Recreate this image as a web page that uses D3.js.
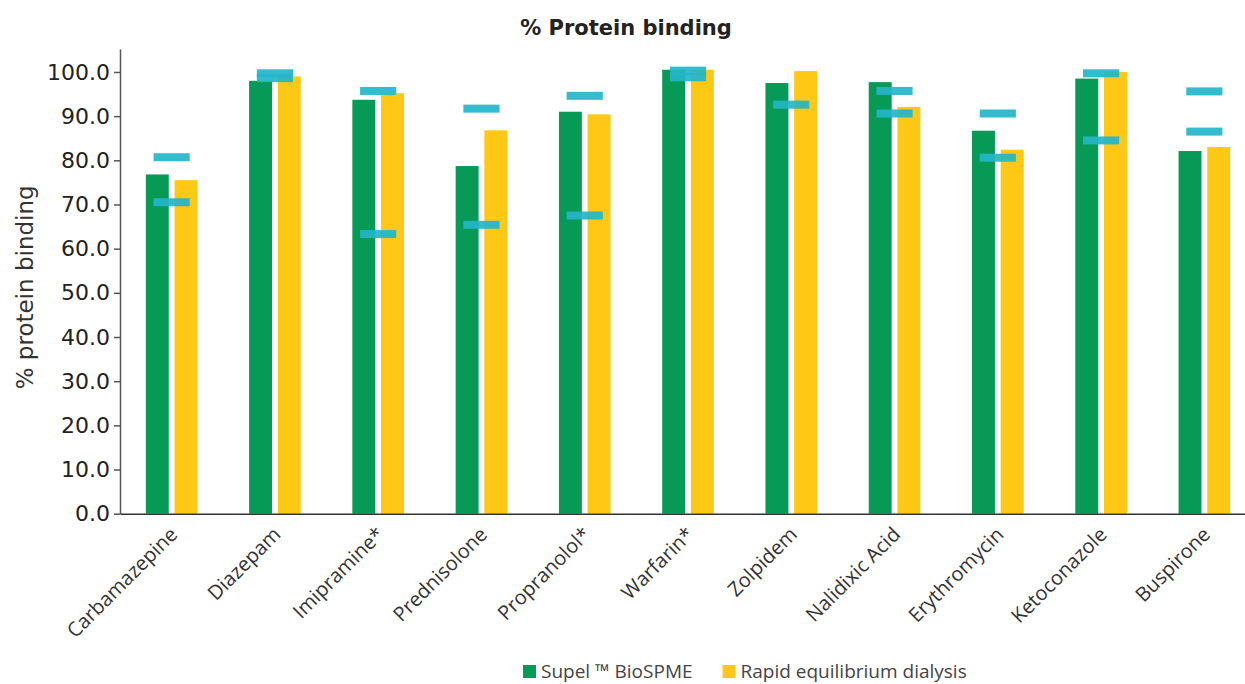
<!DOCTYPE html>
<html>
<head>
<meta charset="utf-8">
<script src="https://cdn.jsdelivr.net/npm/d3@7"></script>
<style>
  html, body { margin: 0; padding: 0; background: #fff; }
  svg { display: block; }
</style>
</head>
<body>
<svg id="chart" width="1245" height="684"></svg>
<script>
// drug names on the x axis
const drugs = ['Carbamazepine', 'Diazepam', 'Imipramine*', 'Prednisolone', 'Propranolol*',
  'Warfarin*', 'Zolpidem', 'Nalidixic Acid', 'Erythromycin', 'Ketoconazole', 'Buspirone'];

const seriesNames = ['Supel \u2122 BioSPME', 'Rapid equilibrium dialysis'];
const bioSpme  = [76.8, 98.0, 93.7, 78.7, 91.0, 100.5, 97.5, 97.7, 86.7, 98.5, 82.1];
const redValues = [75.5, 99.0, 95.2, 86.8, 90.4, 100.5, 100.2, 92.1, 82.4, 100.0, 83.0];

// literature range markers (cyan dashes), null = none
const rangeLow  = [70.5, 98.6, 63.3, 65.4, 67.5, 98.8, 92.6, 90.6, 80.6, 84.5, 86.5];
const rangeHigh = [80.7, 99.7, 95.7, 91.7, 94.6, 100.3, null, 95.7, 90.6, 99.7, 95.6];

const yTicks = [0, 10, 20, 30, 40, 50, 60, 70, 80, 90, 100];

const COLORS = ['#079a57', '#ffc815'];
const MARK = '#23b5c9';

const svg = d3.select('#chart');

const plotLeft = 120, plotRight = 1256, plotTop = 49, plotBottom = 513.7;

const x0 = d3.scaleBand().domain(drugs).range([plotLeft, plotRight]).padding(0);
const bw = x0.bandwidth();
const x1 = d3.scaleBand().domain(seriesNames).range([bw * 0.25, bw * 0.75]).paddingInner(0.2);
const y = d3.scaleLinear().domain([0, 105.2]).range([plotBottom, plotTop]);

// title
svg.append('text')
  .attr('x', 626).attr('y', 35)
  .attr('text-anchor', 'middle')
  .attr('font-family', 'DejaVu Sans, Verdana, sans-serif')
  .attr('font-size', 21).attr('font-weight', 700)
  .attr('fill', '#222')
  .text('% Protein binding');

// y axis label
svg.append('text')
  .attr('transform', `translate(33,${(plotTop + plotBottom) / 2 + 6}) rotate(-90)`)
  .attr('text-anchor', 'middle')
  .attr('font-family', 'DejaVu Sans, Verdana, sans-serif')
  .attr('font-size', 23)
  .attr('fill', '#333')
  .text('% protein binding');

// bars
const rows = drugs.map((d, i) => ({ drug: d, vals: [bioSpme[i], redValues[i]] }));

const groups = svg.append('g').selectAll('g')
  .data(rows).join('g')
  .attr('transform', d => `translate(${x0(d.drug)},0)`);

groups.selectAll('rect')
  .data(d => d.vals.map((v, k) => ({ key: seriesNames[k], v, k })))
  .join('rect')
  .attr('x', d => x1(d.key))
  .attr('width', x1.bandwidth())
  .attr('y', d => y(d.v))
  .attr('height', d => y(0) - y(d.v))
  .attr('fill', d => COLORS[d.k]);

// range markers
const marks = [];
drugs.forEach((d, i) => {
  [rangeLow[i], rangeHigh[i]].forEach(v => { if (v != null) marks.push({ drug: d, v }); });
});
const mw = bw * 0.35, mh = 8;
svg.append('g').selectAll('rect')
  .data(marks).join('rect')
  .attr('x', d => x0(d.drug) + bw / 2 - mw / 2)
  .attr('width', mw)
  .attr('y', d => y(d.v) - mh / 2)
  .attr('height', mh)
  .attr('fill', MARK)
  .attr('fill-opacity', 0.92);

// y axis
const yAxis = svg.append('g')
  .attr('transform', `translate(${plotLeft},0)`)
  .call(d3.axisLeft(y).tickValues(yTicks).tickFormat(d3.format('.1f')).tickSize(6).tickPadding(4).tickSizeOuter(0));
yAxis.select('.domain').attr('stroke', '#555').attr('stroke-width', 1.5);
yAxis.selectAll('.tick line').attr('stroke', '#555').attr('stroke-width', 1.5);
yAxis.selectAll('.tick text')
  .attr('font-family', 'DejaVu Sans, Verdana, sans-serif')
  .attr('font-size', 22)
  .attr('fill', '#222');

// x axis
const xAxis = svg.append('g')
  .attr('transform', `translate(0,${plotBottom})`)
  .call(d3.axisBottom(x0).tickSize(0).tickSizeOuter(0).tickPadding(0));
xAxis.select('.domain').attr('stroke', '#333').attr('stroke-width', 1.5);
xAxis.selectAll('.tick text')
  .attr('y', 0).attr('dy', 0)
  .attr('transform', 'translate(7,22) rotate(-45)')
  .attr('text-anchor', 'end')
  .attr('font-family', 'Open Sans, sans-serif')
  .attr('font-size', 20)
  .attr('fill', '#333');

// legend
const legend = svg.append('g').attr('transform', 'translate(523,665)');
let lx = 0;
seriesNames.forEach((name, k) => {
  const item = legend.append('g').attr('transform', `translate(${lx},0)`);
  item.append('rect').attr('width', 13).attr('height', 13).attr('fill', COLORS[k]);
  const t = item.append('text')
    .attr('x', 18).attr('y', 13)
    .attr('font-family', 'Open Sans, sans-serif')
    .attr('font-size', 19)
    .attr('fill', '#444')
    .text(name);
  lx += 18 + t.node().getComputedTextLength() + 30;
});
</script>
</body>
</html>
